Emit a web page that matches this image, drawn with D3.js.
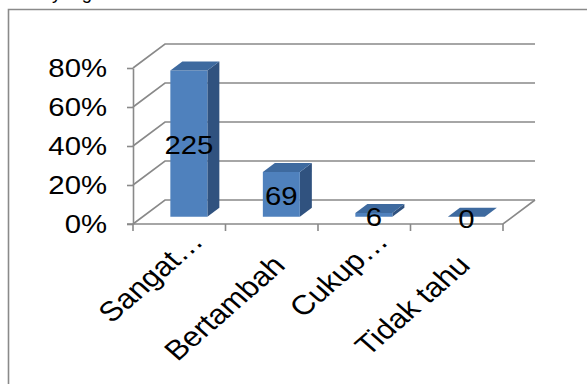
<!DOCTYPE html>
<html>
<head>
<meta charset="utf-8">
<script src="https://cdn.jsdelivr.net/npm/d3@7"></script>
<style>
  html, body { margin: 0; padding: 0; background: #fff; }
  svg { display: block; }
  text { font-family: "Liberation Sans", Arial, sans-serif; fill: #000; }
</style>
</head>
<body>
<svg id="chart" width="587" height="384"></svg>
<script>
// Responses per category (counts); bars show each count's share of the total
const categories = ["Sangat\u2026", "Bertambah", "Cukup\u2026", "Tidak tahu"];
const counts = [225, 69, 6, 0];
const yTicks = [0, 0.2, 0.4, 0.6, 0.8];

const total = d3.sum(counts);
const shares = counts.map(c => c / total);

const W = 587, H = 384;
const svg = d3.select("#chart");

// Plot frame (front plane) and 3D depth offset
const plotL = 133, plotR = 503, plotB = 224, plotT = 68;
const depthX = 32, depthY = 24;
const fontSize = 25.5, stretch = 1.15;
const catFont = 27.5;

const x = d3.scaleBand().domain(categories).range([plotL, plotR]).padding(0);
const y = d3.scaleLinear().domain([0, 0.8]).range([plotB, plotT]);
const bw = x.bandwidth();

const gridColor = "#898989";
const gridWidth = 1.6;

// Page text line cut by the top of the frame
svg.append("text")
  .attr("x", 52).attr("y", -1)
  .attr("font-size", 18.5)
  .text("yang");

// Outer chart border
svg.append("path")
  .attr("d", `M8.5,${H + 2} V9.5 H${W + 2}`)
  .attr("fill", "none")
  .attr("stroke", "#8a8a8a")
  .attr("stroke-width", 1.6);

const g = svg.append("g");

// Gridlines: diagonal across the side wall then along the back wall
g.selectAll("path.grid")
  .data(yTicks)
  .join("path")
  .attr("class", "grid")
  .attr("d", v => `M${plotL},${y(v)} L${plotL + depthX},${y(v) - depthY} H${plotR + depthX}`)
  .attr("fill", "none")
  .attr("stroke", gridColor)
  .attr("stroke-width", gridWidth);

// Floor: right edge diagonal and front edge
g.append("path")
  .attr("d", `M${plotL - 6},${plotB} H${plotR} L${plotR + depthX},${plotB - depthY}`)
  .attr("fill", "none")
  .attr("stroke", gridColor)
  .attr("stroke-width", gridWidth);

// Value axis
const yAxis = d3.axisLeft(y)
  .tickValues(yTicks)
  .tickFormat(d3.format(".0%"))
  .tickSizeInner(6)
  .tickSizeOuter(0)
  .tickPadding(0);

const ya = g.append("g")
  .attr("transform", `translate(${plotL},0)`)
  .call(yAxis);
ya.select(".domain").attr("stroke", gridColor).attr("stroke-width", gridWidth);
ya.selectAll(".tick line").attr("stroke", gridColor).attr("stroke-width", gridWidth);
ya.selectAll(".tick text")
  .attr("font-family", "Liberation Sans, Arial, sans-serif")
  .attr("font-size", fontSize)
  .attr("fill", "#000")
  .attr("dy", null)
  .attr("dominant-baseline", "central")
  .attr("x", -26 / stretch)
  .attr("transform", `scale(${stretch},1)`);

// Category ticks at band edges
const edges = categories.map(c => x(c)).concat([plotR]);
g.selectAll("line.ctick")
  .data(edges)
  .join("line")
  .attr("class", "ctick")
  .attr("x1", d => d).attr("x2", d => d)
  .attr("y1", plotB).attr("y2", plotB + 7)
  .attr("stroke", gridColor)
  .attr("stroke-width", gridWidth);

// Rotated category labels, right-aligned below each category
g.selectAll("text.cat")
  .data(categories)
  .join("text")
  .attr("class", "cat")
  .attr("font-size", catFont)
  .attr("text-anchor", "end")
  .attr("transform", c => {
    const cx = x(c) + bw / 2;
    const cut = c.endsWith("\u2026");
    const ax = cx + (cut ? 25.5 : 15);
    const ay = cut ? 243 : 267;
    return `translate(${ax},${ay}) scale(${stretch},1) rotate(-45)`;
  })
  .text(c => c);

// 3D bars
const barFrac = 0.4;            // front face width as share of band
const z0 = 0.3, z1 = 0.675;     // bar depth range as share of floor depth
const front = "#4F81BD", topC = "#3E6A9F", sideC = "#30527F";

const bars = g.selectAll("g.bar")
  .data(categories.map((c, i) => ({ c, v: shares[i], n: counts[i] })))
  .join("g")
  .attr("class", "bar");

function pt(px, py, z) { return [px + depthX * z, py - depthY * z]; }

bars.each(function(d) {
  const sel = d3.select(this);
  const xa = x(d.c) + bw * (1 - barFrac) / 2;
  const xb = xa + bw * barFrac;
  const yt = y(d.v), yb = y(0);
  const line = d3.line();
  // side face
  sel.append("path")
    .attr("d", line([pt(xb, yb, z0), pt(xb, yb, z1), pt(xb, yt, z1), pt(xb, yt, z0)]) + "Z")
    .attr("fill", sideC);
  // front face
  if (yb - yt > 0) {
    sel.append("path")
      .attr("d", line([pt(xa, yb, z0), pt(xb, yb, z0), pt(xb, yt, z0), pt(xa, yt, z0)]) + "Z")
      .attr("fill", front);
  }
  // top face
  sel.append("path")
    .attr("d", line([pt(xa, yt, z0), pt(xb, yt, z0), pt(xb, yt, z1), pt(xa, yt, z1)]) + "Z")
    .attr("fill", topC);
});

// Count labels at the centre of each bar's front face
bars.append("text")
  .attr("font-size", fontSize)
  .attr("text-anchor", "middle")
  .attr("dominant-baseline", "central")
  .attr("transform", d => {
    const [cx] = pt(x(d.c) + bw / 2, 0, z0);
    const cy = (y(d.v) + y(0)) / 2 - depthY * z0;
    return `translate(${cx},${cy + 2}) scale(${stretch},1)`;
  })
  .text(d => d.n);
</script>
</body>
</html>
